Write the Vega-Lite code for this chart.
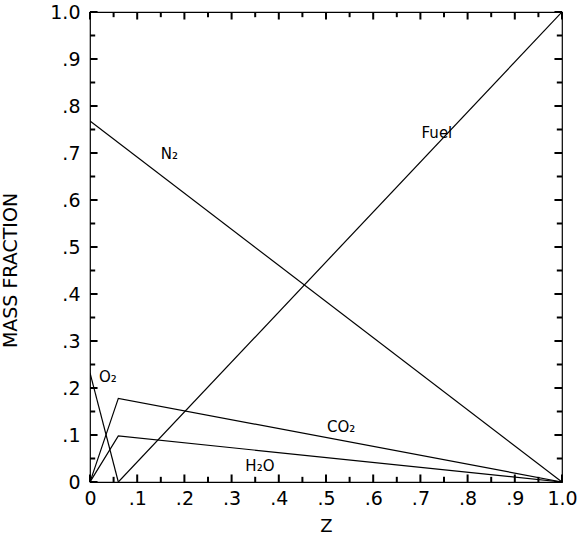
{
  "$schema": "https://vega.github.io/schema/vega-lite/v6.json",
  "width": 472,
  "height": 470,
  "autosize": {"type": "none"},
  "padding": {"left": 90, "top": 12, "right": 18, "bottom": 58},
  "background": "white",
  "config": {
    "view": {"stroke": "black", "strokeWidth": 1.2},
    "font": "DejaVu Sans",
    "axis": {"grid": false, "domain": false, "ticks": false, "labelColor": "black", "titleColor": "black", "labelFont": "DejaVu Sans", "titleFont": "DejaVu Sans", "titleFontWeight": "normal", "labelFlush": false}
  },
  "datasets": {
    "major": [{"v": 0}, {"v": 0.1}, {"v": 0.2}, {"v": 0.3}, {"v": 0.4}, {"v": 0.5}, {"v": 0.6}, {"v": 0.7}, {"v": 0.8}, {"v": 0.9}, {"v": 1}],
    "minor": [{"v": 0.05}, {"v": 0.15}, {"v": 0.25}, {"v": 0.35}, {"v": 0.45}, {"v": 0.55}, {"v": 0.65}, {"v": 0.75}, {"v": 0.85}, {"v": 0.95}]
  },
  "layer": [
    {
      "data": {"values": [
        {"s": "N2", "z": 0, "y": 0.768}, {"s": "N2", "z": 1, "y": 0},
        {"s": "O2", "z": 0, "y": 0.232}, {"s": "O2", "z": 0.06, "y": 0},
        {"s": "Fuel", "z": 0.06, "y": 0}, {"s": "Fuel", "z": 1, "y": 1},
        {"s": "CO2", "z": 0, "y": 0}, {"s": "CO2", "z": 0.06, "y": 0.178}, {"s": "CO2", "z": 1, "y": 0},
        {"s": "H2O", "z": 0, "y": 0}, {"s": "H2O", "z": 0.06, "y": 0.098}, {"s": "H2O", "z": 1, "y": 0}
      ]},
      "mark": {"type": "line", "color": "black", "strokeWidth": 1.2, "clip": true},
      "encoding": {
        "x": {"field": "z", "type": "quantitative", "scale": {"domain": [0, 1], "nice": false}, "title": "Z",
          "axis": {"orient": "bottom", "values": [0,0.1,0.2,0.3,0.4,0.5,0.6,0.7,0.8,0.9,1],
            "labelPadding": 7, "labelFontSize": 19, "titleFontSize": 18, "titlePadding": 9,
            "labelExpr": "datum.value == 0 ? '0' : datum.value == 1 ? '1.0' : '.' + format(round(datum.value*10), 'd')"}},
        "y": {"field": "y", "type": "quantitative", "scale": {"domain": [0, 1], "nice": false}, "title": "MASS FRACTION",
          "axis": {"orient": "left", "values": [0,0.1,0.2,0.3,0.4,0.5,0.6,0.7,0.8,0.9,1],
            "labelPadding": 10, "labelFontSize": 19, "titleFontSize": 19, "titleX": -70, "titleY": 258,
            "labelExpr": "datum.value == 0 ? '0' : datum.value == 1 ? '1.0' : '.' + format(round(datum.value*10), 'd')"}},
        "detail": {"field": "s"}
      }
    },
    {
      "data": {"name": "major"},
      "mark": {"type": "rule", "color": "black", "strokeWidth": 2},
      "encoding": {"x": {"field": "v", "type": "quantitative"}, "y": {"datum": 0, "type": "quantitative"}, "y2": {"datum": 0.016}}
    },
    {
      "data": {"name": "major"},
      "mark": {"type": "rule", "color": "black", "strokeWidth": 2},
      "encoding": {"x": {"field": "v", "type": "quantitative"}, "y": {"datum": 1, "type": "quantitative"}, "y2": {"datum": 0.984}}
    },
    {
      "data": {"name": "major"},
      "mark": {"type": "rule", "color": "black", "strokeWidth": 2},
      "encoding": {"y": {"field": "v", "type": "quantitative"}, "x": {"datum": 0, "type": "quantitative"}, "x2": {"datum": 0.016}}
    },
    {
      "data": {"name": "major"},
      "mark": {"type": "rule", "color": "black", "strokeWidth": 2},
      "encoding": {"y": {"field": "v", "type": "quantitative"}, "x": {"datum": 1, "type": "quantitative"}, "x2": {"datum": 0.984}}
    },
    {
      "data": {"name": "minor"},
      "mark": {"type": "rule", "color": "black", "strokeWidth": 2},
      "encoding": {"x": {"field": "v", "type": "quantitative"}, "y": {"datum": 0, "type": "quantitative"}, "y2": {"datum": 0.011}}
    },
    {
      "data": {"name": "minor"},
      "mark": {"type": "rule", "color": "black", "strokeWidth": 2},
      "encoding": {"x": {"field": "v", "type": "quantitative"}, "y": {"datum": 1, "type": "quantitative"}, "y2": {"datum": 0.989}}
    },
    {
      "data": {"name": "minor"},
      "mark": {"type": "rule", "color": "black", "strokeWidth": 2},
      "encoding": {"y": {"field": "v", "type": "quantitative"}, "x": {"datum": 0, "type": "quantitative"}, "x2": {"datum": 0.011}}
    },
    {
      "data": {"name": "minor"},
      "mark": {"type": "rule", "color": "black", "strokeWidth": 2},
      "encoding": {"y": {"field": "v", "type": "quantitative"}, "x": {"datum": 1, "type": "quantitative"}, "x2": {"datum": 0.989}}
    },
    {
      "data": {"values": [
        {"t": "O₂", "z": 0.038, "y": 0.223},
        {"t": "N₂", "z": 0.168, "y": 0.697},
        {"t": "Fuel", "z": 0.735, "y": 0.743},
        {"t": "CO₂", "z": 0.532, "y": 0.118},
        {"t": "H₂O", "z": 0.36, "y": 0.034}
      ]},
      "mark": {"type": "text", "fontSize": 15, "color": "black", "font": "DejaVu Sans"},
      "encoding": {
        "x": {"field": "z", "type": "quantitative"},
        "y": {"field": "y", "type": "quantitative"},
        "text": {"field": "t"}
      }
    }
  ]
}
